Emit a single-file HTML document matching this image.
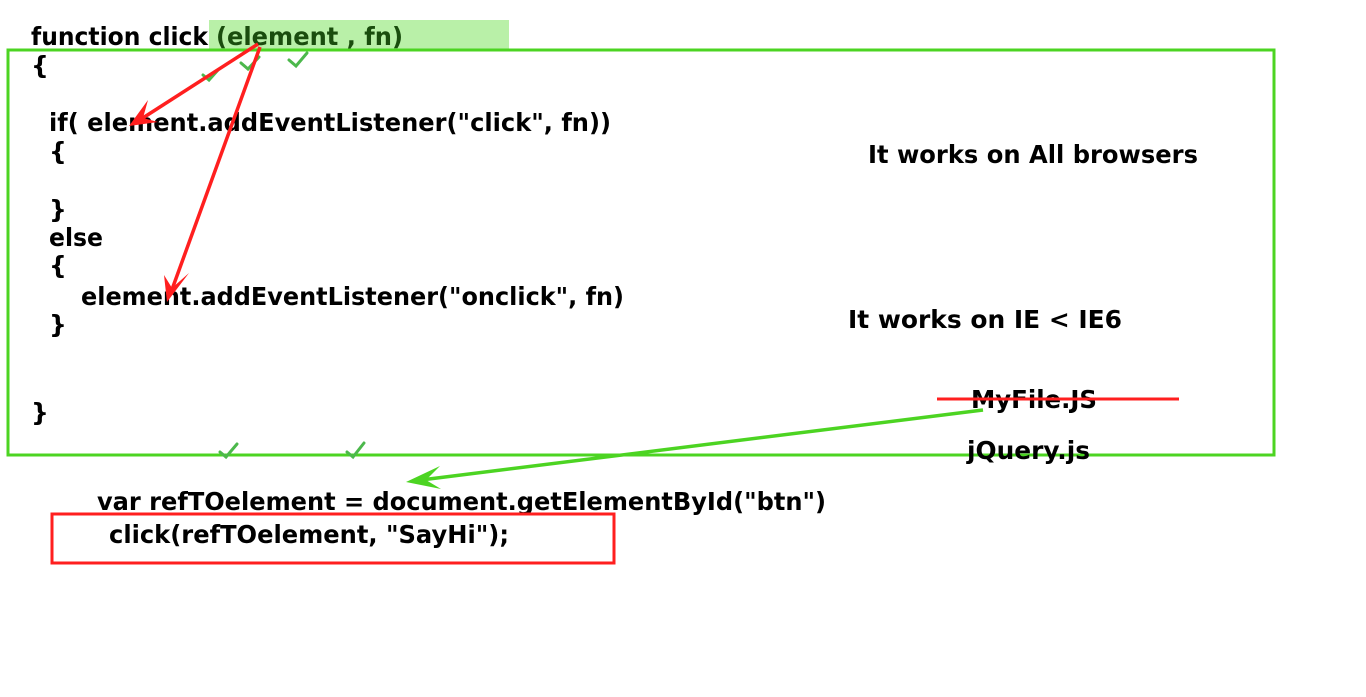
<!DOCTYPE html>
<html><head><meta charset="utf-8"><style>
html,body{margin:0;padding:0;background:#fff;}
svg{display:block;}
text{font-family:"DejaVu Sans","Liberation Sans",sans-serif;font-weight:bold;font-size:25px;fill:#000;}
</style></head><body>
<svg width="1366" height="697" viewBox="0 0 1366 697" xmlns="http://www.w3.org/2000/svg">
<rect x="209" y="20" width="300" height="29" fill="#b9f0a8"/>
<rect x="8" y="50" width="1266" height="405" fill="none" stroke="#4cd422" stroke-width="3"/>
<text x="31" y="45" textLength="177" lengthAdjust="spacingAndGlyphs">function click</text>
<text x="216" y="45" textLength="187" lengthAdjust="spacingAndGlyphs" style="fill:#1a4d0e">(element , fn)</text>
<text x="31" y="74">{</text>
<text x="49" y="131" textLength="562" lengthAdjust="spacingAndGlyphs">if( element.addEventListener("click", fn))</text>
<text x="49" y="160">{</text>
<text x="49" y="218">}</text>
<text x="49" y="246" textLength="54" lengthAdjust="spacingAndGlyphs">else</text>
<text x="49" y="274">{</text>
<text x="81" y="305" textLength="543" lengthAdjust="spacingAndGlyphs">element.addEventListener("onclick", fn)</text>
<text x="49" y="333">}</text>
<text x="31" y="421">}</text>
<text x="868" y="163" textLength="330" lengthAdjust="spacingAndGlyphs">It works on All browsers</text>
<text x="848" y="328" textLength="274" lengthAdjust="spacingAndGlyphs">It works on IE &lt; IE6</text>
<text x="971" y="408" textLength="126" lengthAdjust="spacingAndGlyphs">MyFile.JS</text>
<text x="967" y="459" textLength="123" lengthAdjust="spacingAndGlyphs">jQuery.js</text>
<text x="97" y="510" textLength="729" lengthAdjust="spacingAndGlyphs">var refTOelement = document.getElementById("btn")</text>
<text x="109" y="543" textLength="400" lengthAdjust="spacingAndGlyphs">click(refTOelement, "SayHi");</text>
<rect x="52" y="514" width="562" height="49" fill="none" stroke="#ff1f1f" stroke-width="3"/>
<line x1="937" y1="399" x2="1179" y2="399" stroke="#ff1f1f" stroke-width="3"/>
<g fill="none" stroke="#4cb84c" stroke-width="3" stroke-linecap="round">
<path d="M203 75 L209 80 L218 70"/>
<path d="M241 63 L248 69 L259 57"/>
<path d="M289 60 L296 66 L307 53"/>
<path d="M220 452 L226 457 L237 444"/>
<path d="M347 452 L353 457 L364 443"/>
</g>
<g stroke="#ff1f1f" stroke-width="3.5" fill="#ff1f1f">
<line x1="258" y1="44" x2="135" y2="123"/>
<path d="M129 126 L148 100 L143 118 L158 122 Z" stroke="none"/>
<line x1="260" y1="47" x2="170" y2="295"/>
<path d="M167 302 L164 275 L172 288 L189 273 Z" stroke="none"/>
</g>
<g stroke="#4cd422" stroke-width="3.5" fill="#4cd422">
<line x1="983" y1="410" x2="413" y2="481"/>
<path d="M406 482 L440 466 L426 480 L441 489 Z" stroke="none"/>
</g>
</svg>
</body></html>
